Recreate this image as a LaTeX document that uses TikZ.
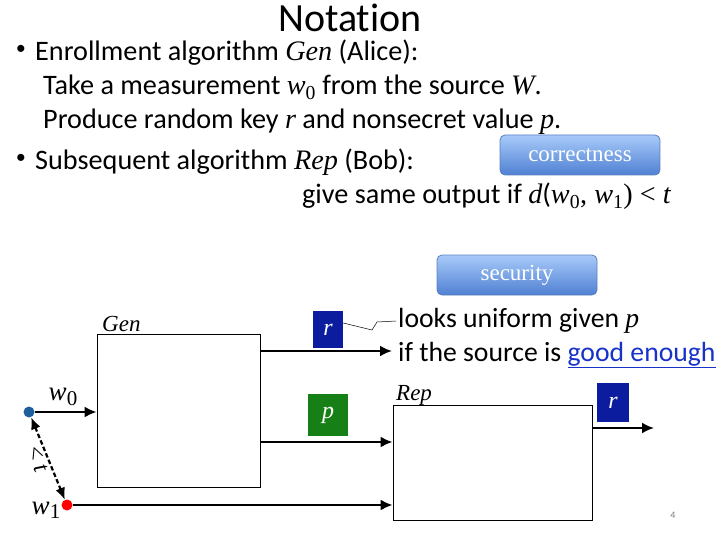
\documentclass[tikz,border=0pt]{standalone}
\usepackage{fontspec}
\usetikzlibrary{arrows.meta}
\setmainfont[Ligatures=NoCommon]{Carlito}
\newfontfamily\tms{Liberation Serif}
\newfontfamily\bul{Liberation Sans}
\newcommand{\mv}[1]{{\tms\itshape #1}}
\newcommand{\mvs}[2]{{\tms\itshape #1}\textsubscript{\tms #2}}
\definecolor{boxtop}{HTML}{A9CBFA}
\definecolor{boxbot}{HTML}{4F80D2}
\definecolor{boxedge}{HTML}{5B7FBF}
\definecolor{rblue}{HTML}{0B1C9E}
\definecolor{pgreen}{HTML}{167F16}
\definecolor{dotblue}{HTML}{1F5E9C}
\definecolor{linkblue}{HTML}{1632C8}
\begin{document}
\begin{tikzpicture}[x=1pt,y=-1pt,
  txt/.style={anchor=base west,inner sep=0pt,font=\fontsize{28.2}{32}\selectfont},
  bullet/.style={inner sep=0pt,font=\bul\fontsize{26}{28}\selectfont},
  badge/.style={draw=boxedge,line width=0.8pt,rounded corners=5pt,top color=boxtop,bottom color=boxbot,
    minimum width=160pt,minimum height=40pt,text=white,font=\tms\fontsize{23}{26}\selectfont},
  algbox/.style={draw,line width=0.9pt,fill=white,inner sep=0pt},
  algname/.style={anchor=base west,inner sep=0pt,font=\tms\itshape\fontsize{23}{26}\selectfont},
  valbox/.style={inner sep=0pt,text=white,font=\tms\itshape\fontsize{24}{26}\selectfont},
  flow/.style={line width=2.2pt,-{Latex[length=12pt,width=11pt]}},
  dot/.style={circle,inner sep=0pt,minimum size=11pt}]
\useasboundingbox (0,0) rectangle (720,540);
% title and bullets
\node[anchor=base,inner sep=0pt,font=\fontsize{40}{44}\selectfont] (title) at (350,32) {Notation};
\node[bullet] (b1) at (21,51) {•};
\node[txt] (l1) at (35,61) {Enrollment algorithm \mv{Gen} (Alice):};
\node[txt] (l2) at (43,95) {Take a measurement \mvs{w}{0} from the source \mv{W}.};
\node[txt] (l3) at (43,129) {Produce random key \mv{r} and nonsecret value \mv{p}.};
\node[bullet] (b2) at (21,160) {•};
\node[txt] (l4) at (35,170) {Subsequent algorithm \mv{Rep} (Bob):};
\node[txt] (l5) at (302,204) {give same output if \mv{d}({\tms\mvs{w}{0}, \mvs{w}{1}) {\tms<} \mv{t}}};
\node[badge] (corr) at (580,155) {correctness};
\node[badge] (sec) at (517,275) {security};
% security text
\node[txt,font=\fontsize{27.7}{32}\selectfont] (s1) at (398,327) {looks uniform given \mv{p}};
\node[txt,font=\fontsize{27.7}{32}\selectfont] (s2) at (398,361) {if the source is {\color{linkblue}\underline{good enough}}};
% boxes
\node[algbox,minimum width=163pt,minimum height=153pt] (gen) at (178.5,410.5) {};
\node[algname] (genl) at (102,331) {Gen};
\node[algbox,minimum width=199pt,minimum height=115pt] (rep) at (492.5,462.5) {};
\node[algname] (repl) at (396,400) {Rep};
\node[valbox,fill=rblue,minimum width=30pt,minimum height=37pt] (r1) at (328,329.5) {r};
\node[valbox,fill=pgreen,minimum width=40pt,minimum height=42pt] (p1) at (328,415) {p};
\node[valbox,fill=rblue,minimum width=32pt,minimum height=39pt] (r2) at (613,402.5) {r};
% inputs
\node[dot,fill=dotblue] (w0) at (29,412) {};
\node[dot,fill=red] (w1) at (67,505) {};
\node[inner sep=0pt,font=\tms\fontsize{27}{28}\selectfont] (w0l) at (63,397) {\mv{w}\raisebox{-0.35ex}{\fontsize{21}{22}\selectfont 0}};
\node[inner sep=0pt,font=\tms\fontsize{27}{28}\selectfont] (w1l) at (46,510) {\mv{w}\raisebox{-0.35ex}{\fontsize{21}{22}\selectfont 1}};
\node[inner sep=0pt,rotate=-69,font=\tms\fontsize{24}{26}\selectfont] (lt) at (38,459) {< \mv{t}};
\coordinate (rend) at (392,351);
\coordinate (r2end) at (654,428);
% connectors
\draw[flow] (w0) -- (w0 -| gen.west);
\draw[line width=2.2pt,dash pattern=on 4.5pt off 2.5pt,{Latex[length=12pt,width=10pt]}-{Latex[length=12pt,width=10pt]}] (w0) -- (w1);
\draw[flow] (w1) -- (w1 -| rep.west);
\draw[flow] (gen.east |- rend) -- (rend);
\coordinate (pin) at (260,442);
\draw[flow] (pin) -- (pin -| rep.west);
\draw[flow] (rep.east |- r2end) -- (r2end);
\draw[line width=0.5pt] (r1.east |- 0,323) -- (372,330) -- (377,322) -- (396,321);
\node[inner sep=0pt,text=gray,font=\fontsize{10}{12}\selectfont] (pg) at (673,515) {4};
\end{tikzpicture}
\end{document}
